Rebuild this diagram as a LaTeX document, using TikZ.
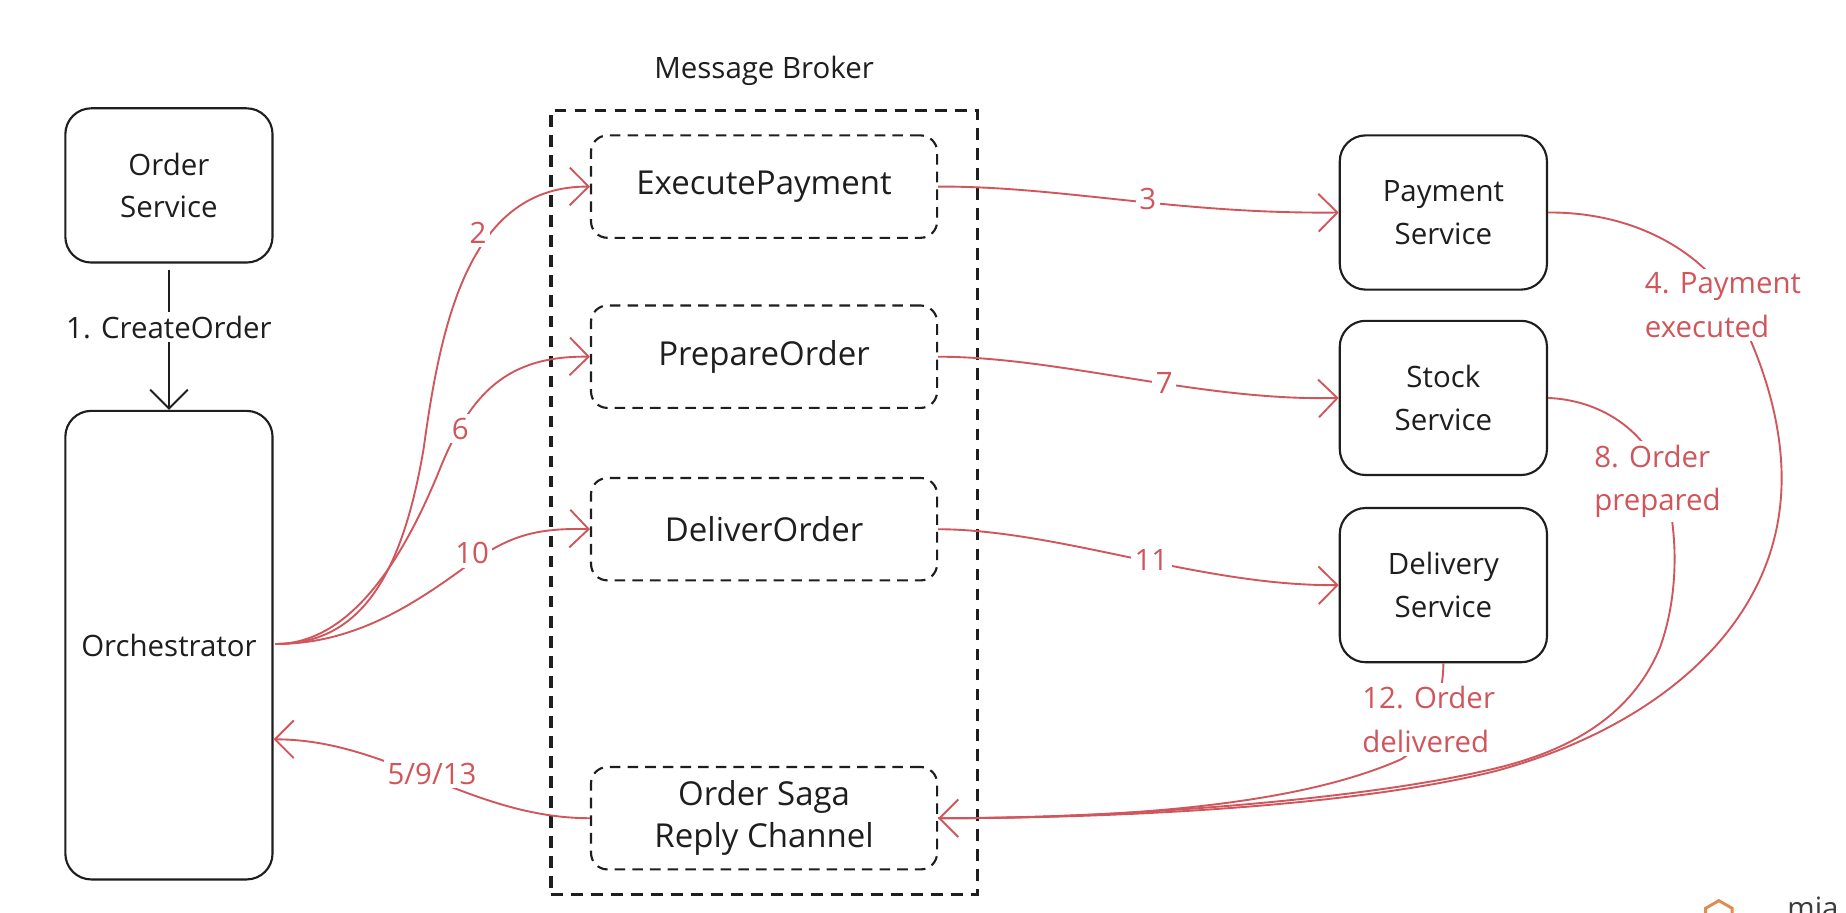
\documentclass[tikz,border=0pt]{standalone}
\usepackage{fontspec}
\setmainfont{Open Sans}
\usetikzlibrary{arrows.meta,shapes.geometric}
\definecolor{rd}{RGB}{208,86,92}
\definecolor{ink}{RGB}{30,30,30}
\tikzset{
  svc/.style={draw=ink, line width=1.8pt, rounded corners=22pt, minimum width=176pt, minimum height=131pt, align=center, text=ink, font=\fontsize{25}{36}\selectfont},
  msg/.style={draw=ink, line width=1.8pt, dash pattern=on 9pt off 6pt, rounded corners=14pt, minimum width=294pt, minimum height=87pt, align=center, text=ink, font=\fontsize{28}{36}\selectfont},
  rline/.style={draw=rd, line width=1.6pt},
  rarr/.style={rline, -{Straight Barb[length=16pt,width=32pt,line width=1.6pt]}},
  rlab/.style={fill=white, text=rd, inner sep=3pt, align=left, font=\fontsize{25}{37}\selectfont},
  blab/.style={fill=white, text=ink, inner sep=3pt, font=\fontsize{25}{30}\selectfont},
}
\begin{document}
\begin{tikzpicture}[x=1pt,y=-1pt]
\useasboundingbox[fill=white] (0,0) rectangle (1568,775);
% broker
\node[draw=ink, line width=2.6pt, dash pattern=on 10pt off 7pt, minimum width=362pt, minimum height=666pt] (broker) at (649,427) {};
\node[text=ink, font=\fontsize{25}{30}\selectfont] (brokerlbl) at (649,60) {Message Broker};
\node[msg] (exec) at (649,158.5) {ExecutePayment};
\node[msg] (prep) at (649,303) {PrepareOrder};
\node[msg] (deliv) at (649,449.5) {DeliverOrder};
\node[msg] (reply) at (649,695) {Order Saga\\Reply Channel};
% left
\node[svc] (order) at (143.5,157.5) {Order\\Service};
\node[svc, minimum height=398pt] (orch) at (143.5,548) {Orchestrator};
% right
\node[svc] (pay) at (1226,180.5) {Payment\\Service};
\node[svc] (stock) at (1226,338) {Stock\\Service};
\node[svc] (dserv) at (1226,497) {Delivery\\Service};
% create order
\coordinate (cstart) at (143.5,229);
\draw[draw=ink, line width=1.6pt, -{Straight Barb[length=16pt,width=32pt,line width=1.6pt]}] (cstart) -- (orch.north);
\node[blab] (l1) at (143.5,278) {1. CreateOrder};
% orchestrator -> broker
\coordinate (os) at (234,547);
\draw[rarr] (os) .. controls (300,547) and (340,500) .. (360,380) .. controls (375,270) and (400,158) .. (exec.west);
\draw[rarr] (os) .. controls (300,547) and (345,470) .. (375,395) .. controls (400,335) and (430,302) .. (prep.west);
\draw[rarr] (os) .. controls (300,547) and (350,515) .. (400,478) .. controls (430,458) and (450,448) .. (deliv.west);
\node[rlab] (l2) at (406,198) {2};
\node[rlab] (l6) at (391,364) {6};
\node[rlab] (l10) at (401,470) {10};
% broker -> services
\draw[rarr] (exec.east) .. controls (900,158) and (1000,182) .. (pay.west);
\draw[rarr] (prep.east) .. controls (900,303) and (1020,341) .. (stock.west);
\draw[rarr] (deliv.east) .. controls (900,450) and (1020,498) .. (dserv.west);
\node[rlab] (l3) at (975,169) {3};
\node[rlab] (l7) at (989,325) {7};
\node[rlab] (l11) at (978,476) {11};
% replies
\draw[rarr] (pay.east) .. controls (1390,180) and (1445,215) .. (1470,255) .. controls (1490,290) and (1520,360) .. (1512,430) .. controls (1500,540) and (1400,620) .. (1270,655) .. controls (1150,685) and (950,695) .. (reply.east);
\draw[rline] (stock.east) .. controls (1360,340) and (1395,365) .. (1410,400) .. controls (1425,440) and (1428,500) .. (1410,550) .. controls (1385,610) and (1330,640) .. (1260,655) .. controls (1150,680) and (950,695) .. (reply.east);
\draw[rline] (dserv.south) .. controls (1226,590) and (1215,630) .. (1190,645) .. controls (1100,685) and (950,695) .. (reply.east);
\node[rlab, anchor=west] (l4) at (1394,259) {4. Payment\\executed};
\node[rlab, anchor=west] (l8) at (1351,409) {8. Order\\prepared};
\node[rlab, anchor=west] (l12) at (1154,611) {12. Order\\delivered};
% reply -> orchestrator
\draw[rarr] (reply.west) .. controls (400,695) and (330,628) .. (orch.east |- 0,628);
\node[rlab] (l5) at (367,657) {5/9/13};
% logo
\node[draw={rgb,255:red,222;green,140;blue,80}, line width=2.5pt, regular polygon, regular polygon sides=6, regular polygon rotate=30, minimum size=26pt, inner sep=0pt] (logo) at (1460,778) {};
\node[text={rgb,255:red,60;green,60;blue,60}, font=\fontsize{25}{30}\selectfont, anchor=base west, inner sep=0pt] (mia) at (1518,780) {mia};
\end{tikzpicture}
\end{document}
